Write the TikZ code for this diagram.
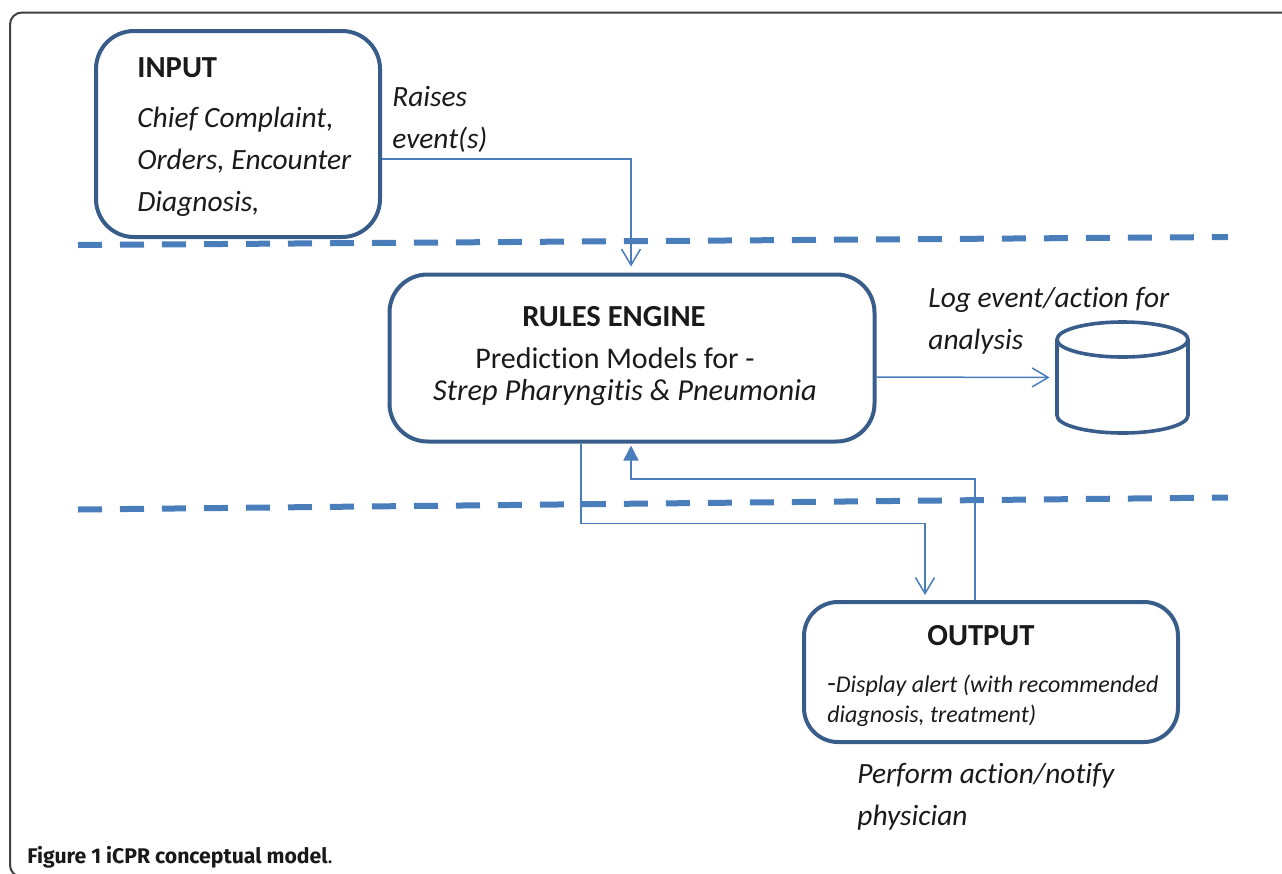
\documentclass[tikz,border=0pt]{standalone}
\usepackage{fontspec}
\setmainfont{Carlito}[Ligatures=NoCommon]
\newfontfamily\capfont{Fira Sans}
\usetikzlibrary{arrows.meta, positioning}

\definecolor{boxblue}{HTML}{385D8A}
\definecolor{lineblue}{HTML}{4A7EBB}
\definecolor{txt}{HTML}{1A1A1A}

\tikzset{
  stage/.style={draw=boxblue, line width=2pt, rounded corners=19pt, inner sep=0pt},
  flow/.style={draw=lineblue, line width=0.75pt, -{Straight Barb[length=8pt,width=9.5pt]}},
  back/.style={draw=lineblue, line width=0.75pt, -{Triangle[length=7.5pt,width=7.5pt]}},
  layer/.style={draw=lineblue, line width=3pt, dash pattern=on 12pt off 9pt},
  dbline/.style={draw=boxblue, line width=1.8pt},
  heading/.style={font=\fontsize{15.3}{18}\selectfont\bfseries, text=txt, inner sep=0pt},
  remark/.style={font=\fontsize{14.7}{21}\selectfont\itshape, text=txt, align=left, inner sep=0pt, anchor=base west},
}

\begin{document}
\begin{tikzpicture}[x=0.5pt, y=-0.5pt]
  \useasboundingbox (0,0) rectangle (1282,874);

  % outer frame
  \draw[black!75, line width=1pt, rounded corners=6pt] (10,12.5) rectangle (1300,877);

  % input layer (multi-line texts sit on their last baseline)
  \node[stage, minimum width=142pt, minimum height=103pt] (input) at (238,134) {};
  \node[heading, anchor=base west] (inputhead) at (137,77) {INPUT};
  \node[remark] (inputtxt) at (137,211) {Chief Complaint,\\Orders, Encounter\\Diagnosis,};
  \node[remark] (raises) at (392,148) {Raises\\event(s)};

  % rules engine
  \node[stage, minimum width=242.5pt, minimum height=83.5pt] (rules) at (632,358) {};
  \node[heading, anchor=base] (ruleshead) at (614,326) {RULES ENGINE};
  \node[font=\fontsize{15}{18}\selectfont, text=txt, inner sep=0pt, anchor=base] (models) at (615,368) {Prediction Models for -};
  \node[font=\fontsize{15.2}{18}\selectfont\itshape, text=txt, inner sep=0pt, anchor=base] (disease) at (625,400) {Strep Pharyngitis \& Pneumonia};
  \node[remark] (logtxt) at (928,349) {Log event/action for\\analysis};

  % log database
  \node[minimum width=65.5pt, minimum height=55.5pt, inner sep=0pt] (logdb) at (1122.5,377.5) {};
  \draw[dbline] (1057,339.5) -- (1057,415.5) arc[start angle=180, end angle=0, x radius=65.5, y radius=17.5] -- (1188,339.5);
  \draw[dbline] (1122.5,339.5) ellipse[x radius=65.5, y radius=17.5];

  % output layer
  \node[stage, rounded corners=17pt, minimum width=187pt, minimum height=70pt] (output) at (991,672) {};
  \node[heading, anchor=base] (outhead) at (981,645) {OUTPUT};
  \node[font=\fontsize{12}{15}\selectfont\itshape, text=txt, align=left, inner sep=0pt, anchor=base west] (alert) at (827,722) {{\upshape\fontsize{14}{15}\selectfont -}Display alert (with recommended\\diagnosis, treatment)};
  \node[remark] (perform) at (857,825) {Perform action/notify\\physician};

  % layer boundaries
  \draw[layer] (78,245) -- (1228,237);
  \draw[layer] (78,509.5) -- (1228,497.5);

  % connectors
  \draw[flow, shorten >=3pt] ([yshift=-12.5pt]input.east) -| ([xshift=-0.5pt]rules.north);
  \draw[flow, shorten >=3.5pt] ([yshift=-9.5pt]rules.east) -- (logdb.west);
  \draw[flow, shorten >=2.5pt] ([xshift=-25.5pt]rules.south) -- ++(0,80) -| ([xshift=-33pt]output.north);
  \draw[back, shorten >=1pt] ([xshift=-8pt]output.north) -- ++(0,-121) -| ([xshift=-0.5pt]rules.south);

  % caption
  \node[font=\capfont\bfseries\fontsize{10.6}{12}\selectfont, text=black!90, anchor=base west, inner sep=0pt] (caption) at (27,863) {Figure 1 iCPR conceptual model{\mdseries.}};
\end{tikzpicture}
\end{document}
